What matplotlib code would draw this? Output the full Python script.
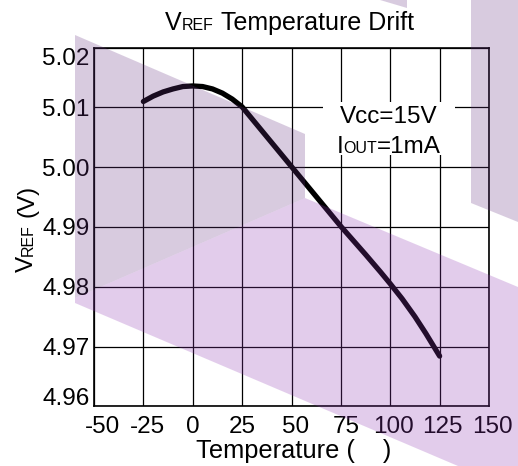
import matplotlib
matplotlib.use("Agg")
import matplotlib.pyplot as plt
from matplotlib.patches import Polygon, Rectangle
from matplotlib.transforms import ScaledTranslation

# ---------------- data ----------------
temperature = [-25, -20, -15, -10, -5, 0, 5, 10, 15, 20, 25,
               37.5, 50, 62.5, 75, 87.5, 95, 100, 106, 112.5, 118, 125]
vref = [5.0110, 5.0119, 5.0126, 5.0131, 5.0135, 5.0136, 5.0135, 5.0131,
        5.0124, 5.0114, 5.0101, 5.0051, 5.0001, 4.9951, 4.9901, 4.9854,
        4.9825, 4.9805, 4.9780, 4.9750, 4.9722, 4.9684]
x_ticks = [-50, -25, 0, 25, 50, 75, 100, 125, 150]
x_tick_labels = ["-50", "-25", "0", "25", "50", "75", "100", "125", "150"]
y_ticks = [4.96, 4.97, 4.98, 4.99, 5.00, 5.01, 5.02]
y_tick_labels = ["4.96", "4.97", "4.98", "4.99", "5.00", "5.01", "5.02"]

FONT = "Liberation Sans"
plt.rcParams['font.family'] = [FONT, 'DejaVu Sans']

W, H = 518, 466
fig = plt.figure(figsize=(W / 100, H / 100), dpi=100)
ax = fig.add_axes([94 / W, 1 - 406.3 / H, (489 - 94) / W, (406.3 - 47.7) / H])
ax.set_xlim(-50, 150)
ax.set_ylim(4.96, 5.02)
ax.set_xticks(x_ticks, x_tick_labels)
ax.set_yticks(y_ticks, y_tick_labels)
ax.tick_params(axis='both', length=0, labelsize=17.5)
ax.tick_params(axis='x', pad=7)
ax.tick_params(axis='y', pad=3)
ax.grid(True, color='black', linewidth=0.9)
ax.set_axisbelow(True)
for s in ax.spines.values():
    s.set_color('black')
    s.set_linewidth(1.2)

# small placement nudges of tick labels (pixels) as in the reference
x_label_dx = [9, 4, 0, 0, 4, 5, 3, 3, 3]
y_label_dy = [10, 0, 0, 0, 0, 0, -9]
for lab, dx in zip(ax.get_xticklabels(), x_label_dx):
    lab.set_transform(lab.get_transform() + ScaledTranslation(dx / 100, 0, fig.dpi_scale_trans))
for lab, dy in zip(ax.get_yticklabels(), y_label_dy):
    lab.set_transform(lab.get_transform() + ScaledTranslation(0, dy / 100, fig.dpi_scale_trans))

ax.plot(temperature, vref, color='black', linewidth=3.8,
        solid_capstyle='round', solid_joinstyle='round', zorder=4)

# white box behind the annotation
ax.add_patch(Rectangle((0.58, 0.70), 0.334, 0.149, transform=ax.transAxes,
                       facecolor='white', edgecolor='none', zorder=3))

renderer = fig.canvas.get_renderer()


def measure(s, size):
    t = fig.text(0, 0, s, fontsize=size)
    w = t.get_window_extent(renderer).width
    t.remove()
    return w


def space_w(size):
    return measure("a a", size) - measure("aa", size)


def runs_h(runs, cx, base_y):
    """runs: list of (text, size) or (None, gapsize). cx, base_y in px from top-left."""
    widths = []
    for s, size in runs:
        widths.append(space_w(size) if s is None else measure(s, size))
    total = sum(widths)
    x = cx - total / 2
    for (s, size), w in zip(runs, widths):
        if s is not None:
            fig.text(x / W, 1 - base_y / H, s, fontsize=size,
                     ha='left', va='baseline')
        x += w


def runs_v(runs, base_x, start_y):
    """rotated 90 deg; starts at start_y (px from top) and goes upward."""
    y = H - start_y
    for s, size in runs:
        w = space_w(size) if s is None else measure(s, size)
        if s is not None:
            fig.text(base_x / W, y / H, s, fontsize=size, rotation=90,
                     rotation_mode='anchor', ha='left', va='baseline')
        y += w


# title
runs_h([("V", 18), ("REF", 11.5), (None, 18), ("Temperature Drift", 18)], 289.5, 30)
# y label
runs_v([("V", 17.5), ("REF", 11.5), (None, 17.5), ("(V)", 17.5)], 33, 272)
# x label
fig.text(294 / W, 1 - 458 / H, "Temperature (    )", fontsize=18.3,
         ha='center', va='baseline')
# annotation
runs_h([("Vcc=15V", 17.5)], 389, 123)
runs_h([("I", 17.5), ("OUT", 11.5), ("=1mA", 17.5)], 389, 153)

# ---------------- watermark overlay ----------------
gray = (103 / 255, 51 / 255, 131 / 255)
purple = (143 / 255, 55 / 255, 179 / 255)
alpha = 0.25


def px_poly(pts, color):
    p = Polygon([(x / W, 1 - y / H) for x, y in pts], closed=True,
                transform=fig.transFigure, facecolor=color, edgecolor='none',
                alpha=alpha, zorder=10)
    fig.add_artist(p)


px_poly([(75, 35), (305, 134), (305, 198), (75, 298)], gray)
px_poly([(75, 298), (305, 198), (518, 287), (518, 466), (458, 466), (75, 303)], purple)
px_poly([(471, 0), (518, 0), (518, 222), (471, 203)], gray)
px_poly([(380, 0), (407, 0), (407, 8)], gray)

fig.savefig("out.png", dpi=100)
